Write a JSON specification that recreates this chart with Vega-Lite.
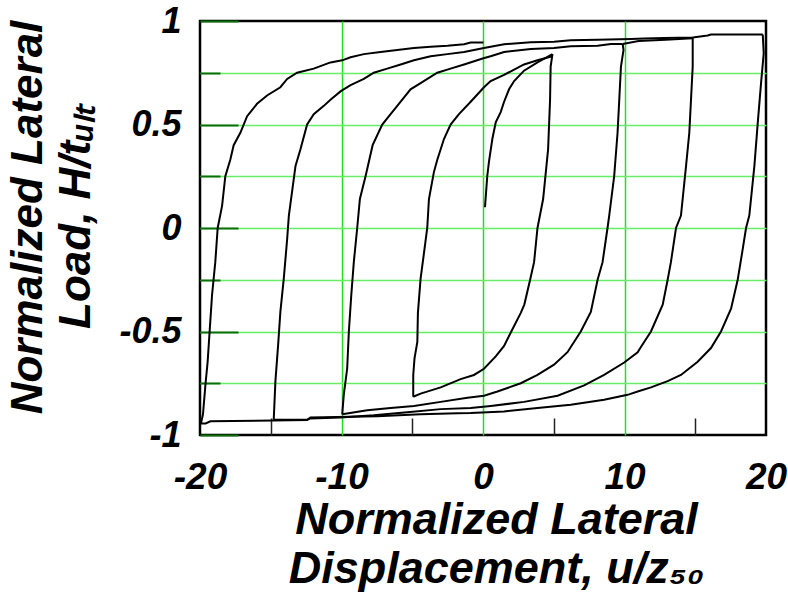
{
  "$schema": "https://vega.github.io/schema/vega-lite/v6.json",
  "width": 566,
  "height": 414,
  "autosize": {"type": "none"},
  "padding": {"left": 200, "top": 21, "right": 22, "bottom": 157},
  "background": "white",
  "view": {"stroke": "black", "strokeWidth": 2.5},
  "config": {
    "font": "Liberation Sans"
  },
  "data": {
    "values": [
      {"s":1,"u":0.14,"h":0.10},{"s":1,"u":0.30,"h":0.25},{"s":1,"u":0.42,"h":0.32},{"s":1,"u":0.66,"h":0.43},{"s":1,"u":0.90,"h":0.51},{"s":1,"u":1.25,"h":0.56},{"s":1,"u":1.49,"h":0.61},{"s":1,"u":1.84,"h":0.67},{"s":1,"u":2.2,"h":0.71},{"s":1,"u":2.9,"h":0.76},{"s":1,"u":3.85,"h":0.80},{"s":1,"u":4.91,"h":0.84},
      {"s":2,"u":4.91,"h":0.84},{"s":2,"u":4.78,"h":0.78},{"s":2,"u":4.74,"h":0.62},{"s":2,"u":4.6,"h":0.38},{"s":2,"u":4.25,"h":0.14},{"s":2,"u":3.85,"h":0.0},{"s":2,"u":3.61,"h":-0.165},{"s":2,"u":3.33,"h":-0.25},{"s":2,"u":2.92,"h":-0.37},{"s":2,"u":2.67,"h":-0.41},{"s":2,"u":2.0,"h":-0.5},{"s":2,"u":1.49,"h":-0.57},{"s":2,"u":0.9,"h":-0.62},{"s":2,"u":0.07,"h":-0.68},{"s":2,"u":-0.64,"h":-0.71},{"s":2,"u":-1.58,"h":-0.73},{"s":2,"u":-2.99,"h":-0.77},{"s":2,"u":-4.41,"h":-0.80},{"s":2,"u":-4.93,"h":-0.815},
      {"s":3,"u":-4.93,"h":-0.815},{"s":3,"u":-4.93,"h":-0.71},{"s":3,"u":-4.84,"h":-0.63},{"s":3,"u":-4.64,"h":-0.55},{"s":3,"u":-4.6,"h":-0.41},{"s":3,"u":-4.41,"h":-0.245},{"s":3,"u":-4.17,"h":-0.12},{"s":3,"u":-3.94,"h":0.0},{"s":3,"u":-3.82,"h":0.14},{"s":3,"u":-3.47,"h":0.27},{"s":3,"u":-3.23,"h":0.33},{"s":3,"u":-2.76,"h":0.43},{"s":3,"u":-2.29,"h":0.50},{"s":3,"u":-1.7,"h":0.55},{"s":3,"u":-0.87,"h":0.61},{"s":3,"u":0.07,"h":0.68},{"s":3,"u":0.54,"h":0.71},{"s":3,"u":1.49,"h":0.74},{"s":3,"u":2.9,"h":0.79},{"s":3,"u":3.85,"h":0.81},{"s":3,"u":4.91,"h":0.83},
      {"s":4,"u":-9.95,"h":-0.90},{"s":4,"u":-9.84,"h":-0.806},{"s":4,"u":-9.6,"h":-0.68},{"s":4,"u":-9.48,"h":-0.5},{"s":4,"u":-9.31,"h":-0.325},{"s":4,"u":-9.13,"h":-0.165},{"s":4,"u":-8.89,"h":0.0},{"s":4,"u":-8.7,"h":0.14},{"s":4,"u":-8.3,"h":0.25},{"s":4,"u":-7.8,"h":0.40},{"s":4,"u":-7.12,"h":0.50},{"s":4,"u":-6.53,"h":0.55},{"s":4,"u":-6.06,"h":0.59},{"s":4,"u":-5.12,"h":0.67},{"s":4,"u":-4.41,"h":0.70},{"s":4,"u":-3.23,"h":0.75},{"s":4,"u":-2.29,"h":0.77},{"s":4,"u":-1.34,"h":0.79},{"s":4,"u":0.03,"h":0.82},{"s":4,"u":0.54,"h":0.83},{"s":4,"u":1.49,"h":0.85},{"s":4,"u":3.38,"h":0.865},{"s":4,"u":5.02,"h":0.87},{"s":4,"u":6.2,"h":0.878},{"s":4,"u":8.1,"h":0.88},{"s":4,"u":9.04,"h":0.889},{"s":4,"u":9.87,"h":0.889},
      {"s":5,"u":9.87,"h":0.889},{"s":5,"u":11.0,"h":0.903},{"s":5,"u":12.9,"h":0.910},{"s":5,"u":14.82,"h":0.917},
      {"s":6,"u":9.87,"h":0.889},{"s":6,"u":9.93,"h":0.86},{"s":6,"u":9.75,"h":0.78},{"s":6,"u":9.63,"h":0.62},{"s":6,"u":9.51,"h":0.46},{"s":6,"u":9.27,"h":0.25},{"s":6,"u":8.92,"h":0.06},{"s":6,"u":8.8,"h":0.0},{"s":6,"u":8.45,"h":-0.165},{"s":6,"u":8.1,"h":-0.25},{"s":6,"u":7.62,"h":-0.405},{"s":6,"u":6.91,"h":-0.5},{"s":6,"u":5.97,"h":-0.6},{"s":6,"u":5.02,"h":-0.66},{"s":6,"u":3.85,"h":-0.71},{"s":6,"u":2.67,"h":-0.75},{"s":6,"u":1.02,"h":-0.79},{"s":6,"u":0.07,"h":-0.81},{"s":6,"u":-1.1,"h":-0.82},{"s":6,"u":-2.99,"h":-0.84},{"s":6,"u":-4.88,"h":-0.86},{"s":6,"u":-6.53,"h":-0.87},{"s":6,"u":-8.18,"h":-0.88},{"s":6,"u":-9.95,"h":-0.90},
      {"s":7,"u":-14.79,"h":-0.926},{"s":7,"u":-14.67,"h":-0.74},{"s":7,"u":-14.48,"h":-0.566},{"s":7,"u":-14.32,"h":-0.405},{"s":7,"u":-14.08,"h":-0.245},{"s":7,"u":-13.84,"h":-0.053},{"s":7,"u":-13.72,"h":0.06},{"s":7,"u":-13.25,"h":0.30},{"s":7,"u":-12.9,"h":0.38},{"s":7,"u":-12.43,"h":0.50},{"s":7,"u":-11.96,"h":0.55},{"s":7,"u":-11.25,"h":0.59},{"s":7,"u":-10.78,"h":0.62},{"s":7,"u":-10.07,"h":0.66},{"s":7,"u":-9.36,"h":0.69},{"s":7,"u":-8.42,"h":0.72},{"s":7,"u":-7.72,"h":0.75},{"s":7,"u":-6.77,"h":0.77},{"s":7,"u":-5.82,"h":0.79},{"s":7,"u":-4.88,"h":0.81},{"s":7,"u":-3.7,"h":0.83},{"s":7,"u":-2.52,"h":0.84},{"s":7,"u":-1.34,"h":0.85},{"s":7,"u":0.07,"h":0.87},{"s":7,"u":0.54,"h":0.876},{"s":7,"u":1.49,"h":0.888},{"s":7,"u":3.38,"h":0.897},{"s":7,"u":5.02,"h":0.90},{"s":7,"u":6.2,"h":0.907},{"s":7,"u":8.1,"h":0.91},{"s":7,"u":10.45,"h":0.913},{"s":7,"u":11.4,"h":0.915},{"s":7,"u":12.8,"h":0.918},{"s":7,"u":14.82,"h":0.92},{"s":7,"u":15.88,"h":0.93},{"s":7,"u":16.1,"h":0.935},{"s":7,"u":19.77,"h":0.935},
      {"s":8,"u":14.82,"h":0.92},{"s":8,"u":14.82,"h":0.78},{"s":8,"u":14.7,"h":0.62},{"s":8,"u":14.58,"h":0.46},{"s":8,"u":14.35,"h":0.30},{"s":8,"u":13.99,"h":0.06},{"s":8,"u":13.64,"h":0.0},{"s":8,"u":13.28,"h":-0.165},{"s":8,"u":13.05,"h":-0.25},{"s":8,"u":12.7,"h":-0.37},{"s":8,"u":11.87,"h":-0.5},{"s":8,"u":11.16,"h":-0.575},{"s":8,"u":10.93,"h":-0.60},{"s":8,"u":9.98,"h":-0.65},{"s":8,"u":8.56,"h":-0.71},{"s":8,"u":7.15,"h":-0.76},{"s":8,"u":5.27,"h":-0.81},{"s":8,"u":2.9,"h":-0.84},{"s":8,"u":0.55,"h":-0.86},{"s":8,"u":-0.87,"h":-0.87},{"s":8,"u":-2.99,"h":-0.875},{"s":8,"u":-5.35,"h":-0.89},{"s":8,"u":-7.72,"h":-0.905},{"s":8,"u":-10.07,"h":-0.915},{"s":8,"u":-12.2,"h":-0.92},{"s":8,"u":-12.43,"h":-0.926},{"s":8,"u":-14.79,"h":-0.926},
      {"s":9,"u":19.77,"h":0.935},{"s":9,"u":19.84,"h":0.845},{"s":9,"u":19.65,"h":0.70},{"s":9,"u":19.42,"h":0.51},{"s":9,"u":19.18,"h":0.30},{"s":9,"u":18.82,"h":0.06},{"s":9,"u":18.59,"h":0.0},{"s":9,"u":18.36,"h":-0.1},{"s":9,"u":18.0,"h":-0.25},{"s":9,"u":17.53,"h":-0.39},{"s":9,"u":16.82,"h":-0.5},{"s":9,"u":16.11,"h":-0.58},{"s":9,"u":15.17,"h":-0.646},{"s":9,"u":13.99,"h":-0.71},{"s":9,"u":13.05,"h":-0.74},{"s":9,"u":11.87,"h":-0.77},{"s":9,"u":10.93,"h":-0.79},{"s":9,"u":10.22,"h":-0.806},{"s":9,"u":8.56,"h":-0.83},{"s":9,"u":6.2,"h":-0.854},{"s":9,"u":3.85,"h":-0.87},{"s":9,"u":1.49,"h":-0.886},{"s":9,"u":-0.87,"h":-0.894},{"s":9,"u":-1.81,"h":-0.895},{"s":9,"u":-4.41,"h":-0.90},{"s":9,"u":-7.47,"h":-0.91},{"s":9,"u":-9.36,"h":-0.912},{"s":9,"u":-12.2,"h":-0.916},{"s":9,"u":-12.43,"h":-0.928},{"s":9,"u":-14.79,"h":-0.93},{"s":9,"u":-19.27,"h":-0.934},{"s":9,"u":-19.6,"h":-0.944},{"s":9,"u":-19.93,"h":-0.944},
      {"s":10,"u":-19.93,"h":-0.944},{"s":10,"u":-19.79,"h":-0.90},{"s":10,"u":-19.62,"h":-0.76},{"s":10,"u":-19.46,"h":-0.646},{"s":10,"u":-19.32,"h":-0.5},{"s":10,"u":-19.15,"h":-0.325},{"s":10,"u":-18.92,"h":-0.165},{"s":10,"u":-18.75,"h":0.0},{"s":10,"u":-18.44,"h":0.107},{"s":10,"u":-18.21,"h":0.25},{"s":10,"u":-17.86,"h":0.33},{"s":10,"u":-17.62,"h":0.40},{"s":10,"u":-17.15,"h":0.46},{"s":10,"u":-16.67,"h":0.54},{"s":10,"u":-15.97,"h":0.60},{"s":10,"u":-15.26,"h":0.64},{"s":10,"u":-14.32,"h":0.68},{"s":10,"u":-13.84,"h":0.72},{"s":10,"u":-13.14,"h":0.75},{"s":10,"u":-11.96,"h":0.77},{"s":10,"u":-10.78,"h":0.80},{"s":10,"u":-9.95,"h":0.81},{"s":10,"u":-9.36,"h":0.825},{"s":10,"u":-8.42,"h":0.84},{"s":10,"u":-7.24,"h":0.85},{"s":10,"u":-6.06,"h":0.86},{"s":10,"u":-4.88,"h":0.87},{"s":10,"u":-3.7,"h":0.876},{"s":10,"u":-2.52,"h":0.88},{"s":10,"u":-1.34,"h":0.888},{"s":10,"u":-0.87,"h":0.896},{"s":10,"u":0.03,"h":0.896}
    ]
  },
  "transform": [{"window": [{"op": "row_number", "as": "o"}]}],
  "mark": {"type": "line", "color": "black", "strokeWidth": 2, "clip": true},
  "encoding": {
    "x": {
      "field": "u", "type": "quantitative",
      "scale": {"domain": [-20, 20], "nice": false, "zero": false},
      "axis": {
        "values": [-20, -15, -10, -5, 0, 5, 10, 15, 20],
        "labelExpr": "datum.value % 10 == 0 ? toString(datum.value) : ''",
        "domain": false,
        "grid": true,
        "gridColor": "#22dd22",
        "gridWidth": 1.5,
        "gridOpacity": {"condition": {"test": "abs(datum.value) == 10 || datum.value == 0", "value": 1}, "value": 0},
        "tickSize": {"condition": {"test": "datum.value % 10 != 0", "value": -17}, "value": 0},
        "tickColor": "#222222",
        "tickWidth": 1.5,
        "labelFont": "Liberation Sans",
        "labelFontWeight": "bold",
        "labelFontStyle": "italic",
        "labelFontSize": 37,
        "labelColor": "black",
        "labelPadding": 24,
        "labelFlush": false,
        "title": ["Normalized Lateral", "Displacement, u/z₅₀"],
        "titleFont": "Liberation Sans",
        "titleFontWeight": "bold",
        "titleFontStyle": "italic",
        "titleFontSize": 45,
        "titleColor": "black",
        "titleLineHeight": 49,
        "titleBaseline": "top",
        "titleAlign": "center",
        "titleX": 296,
        "titleY": 62
      }
    },
    "y": {
      "field": "h", "type": "quantitative",
      "scale": {"domain": [-1, 1], "nice": false, "zero": false},
      "axis": {
        "values": [-1, -0.75, -0.5, -0.25, 0, 0.25, 0.5, 0.75, 1],
        "labelExpr": "(datum.value * 2) % 1 == 0 ? toString(datum.value) : ''",
        "domain": false,
        "grid": true,
        "gridColor": "#66ee66",
        "gridWidth": 1.5,
        "gridOpacity": {"condition": {"test": "abs(datum.value) == 1", "value": 0}, "value": 1},
        "tickSize": {"condition": {"test": "(datum.value * 2) % 1 == 0", "value": -38}, "value": -20},
        "tickColor": "#0a6e0a",
        "tickWidth": 2,
        "labelFont": "Liberation Sans",
        "labelFontWeight": "bold",
        "labelFontStyle": "italic",
        "labelFontSize": 36,
        "labelColor": "black",
        "labelPadding": 57,
        "labelFlush": false,
        "title": ["Normalized Lateral", "Load, H/tᵤₗₜ"],
        "titleFont": "Liberation Sans",
        "titleFontWeight": "bold",
        "titleFontStyle": "italic",
        "titleFontSize": 44,
        "titleColor": "black",
        "titleLineHeight": 48,
        "titleBaseline": "top",
        "titleAlign": "center",
        "titleAngle": 270,
        "titleX": -194,
        "titleY": 196
      }
    },
    "detail": {"field": "s", "type": "nominal"},
    "order": {"field": "o", "type": "quantitative"}
  }
}
